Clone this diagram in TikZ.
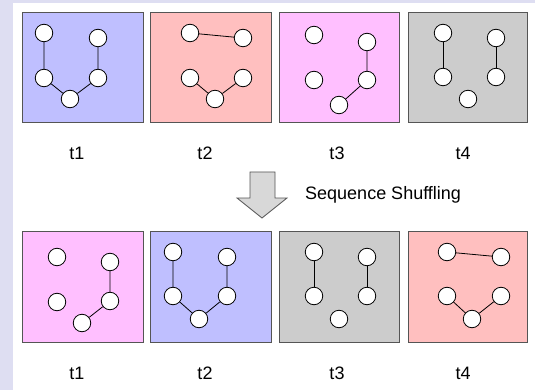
\documentclass[tikz,border=0pt]{standalone}
\usepackage{fontspec}
\setmainfont{Liberation Sans}
\definecolor{strip}{RGB}{222,222,242}
\definecolor{cblue}{RGB}{191,191,255}
\definecolor{cpink}{RGB}{255,191,191}
\definecolor{cmag}{RGB}{255,191,255}
\definecolor{cgray}{RGB}{204,204,204}
\definecolor{boxline}{RGB}{85,85,85}
\definecolor{arrowfill}{RGB}{216,216,216}
\begin{document}
\begin{tikzpicture}[x=1pt,y=-1pt,
  panel/.style={draw=boxline,line width=0.9pt},
  vtx/.style={circle,draw=black,fill=white,line width=0.8pt,minimum size=17.5pt,inner sep=0pt},
  edge/.style={draw=black,line width=0.8pt},
  lbl/.style={font=\fontsize{18}{21}\selectfont,inner sep=0pt},
  blockarrow/.style={draw=boxline,fill=arrowfill,line width=0.8pt,line join=miter}]
\useasboundingbox (0,0) rectangle (535,390);
\fill[white] (0,0) rectangle (535,390);
\fill[strip] (0,0) rectangle (535,3);
\fill[strip] (0,0) rectangle (13,390);
% top row panels
\draw[panel,fill=cblue] (22,12) rectangle (143,122);
\draw[panel,fill=cpink] (150,12) rectangle (271,122);
\draw[panel,fill=cmag] (279,12) rectangle (399,122);
\draw[panel,fill=cgray] (408,12) rectangle (527,122);
% bottom row panels
\draw[panel,fill=cmag] (22,231) rectangle (143,342);
\draw[panel,fill=cblue] (150,231) rectangle (271,342);
\draw[panel,fill=cgray] (279,231) rectangle (399,342);
\draw[panel,fill=cpink] (408,231) rectangle (527,342);
% top row graphs
\node[vtx] (ta1) at (44,33) {}; \node[vtx] (tb1) at (98,38) {};
\node[vtx] (tc1) at (44,78) {}; \node[vtx] (td1) at (98,78) {};
\node[vtx] (te1) at (70,99) {};
\draw[edge] (ta1) -- (tc1) (tb1) -- (td1) (tc1) -- (te1) -- (td1);
\node[vtx] (ta2) at (190,33) {}; \node[vtx] (tb2) at (243,38) {};
\node[vtx] (tc2) at (190,78) {}; \node[vtx] (td2) at (243,78) {};
\node[vtx] (te2) at (215,99) {};
\draw[edge] (ta2) -- (tb2) (tc2) -- (te2) -- (td2);
\node[vtx] (ta3) at (314,35) {}; \node[vtx] (tb3) at (367,42) {};
\node[vtx] (tc3) at (314,80) {}; \node[vtx] (td3) at (367,80) {};
\node[vtx] (te3) at (339,105) {};
\draw[edge] (tb3) -- (td3) -- (te3);
\node[vtx] (ta4) at (443,33) {}; \node[vtx] (tb4) at (496,38) {};
\node[vtx] (tc4) at (443,77) {}; \node[vtx] (td4) at (496,77) {};
\node[vtx] (te4) at (468,99) {};
\draw[edge] (ta4) -- (tc4) (tb4) -- (td4);
% bottom row graphs
\node[vtx] (ba1) at (57,257) {}; \node[vtx] (bb1) at (110,262) {};
\node[vtx] (bc1) at (57,302) {}; \node[vtx] (bd1) at (110,301) {};
\node[vtx] (be1) at (82,323) {};
\draw[edge] (bb1) -- (bd1) -- (be1);
\node[vtx] (ba2) at (173,252) {}; \node[vtx] (bb2) at (227,257) {};
\node[vtx] (bc2) at (173,296) {}; \node[vtx] (bd2) at (227,296) {};
\node[vtx] (be2) at (199,319) {};
\draw[edge] (ba2) -- (bc2) (bb2) -- (bd2) (bc2) -- (be2) -- (bd2);
\node[vtx] (ba3) at (314,252) {}; \node[vtx] (bb3) at (367,257) {};
\node[vtx] (bc3) at (314,296) {}; \node[vtx] (bd3) at (367,296) {};
\node[vtx] (be3) at (339,319) {};
\draw[edge] (ba3) -- (bc3) (bb3) -- (bd3);
\node[vtx] (ba4) at (447,252) {}; \node[vtx] (bb4) at (501,257) {};
\node[vtx] (bc4) at (447,296) {}; \node[vtx] (bd4) at (501,296) {};
\node[vtx] (be4) at (472,319) {};
\draw[edge] (ba4) -- (bb4) (bc4) -- (be4) -- (bd4);
% labels
\node[lbl] (lt1) at (77,153) {t1};
\node[lbl] (lt2) at (205,153) {t2};
\node[lbl] (lt3) at (337,153) {t3};
\node[lbl] (lt4) at (463,153) {t4};
\node[lbl] (lb1) at (77,373) {t1};
\node[lbl] (lb2) at (205,373) {t2};
\node[lbl] (lb3) at (337,373) {t3};
\node[lbl] (lb4) at (463,373) {t4};
% shuffle arrow
\draw[blockarrow] (250,172) -- (275,172) -- (275,198) -- (287,198) -- (262,218) -- (237,198) -- (250,198) -- cycle;
\node[lbl,anchor=west] (shuf) at (305,195) {Sequence Shuffling};
\end{tikzpicture}
\end{document}
